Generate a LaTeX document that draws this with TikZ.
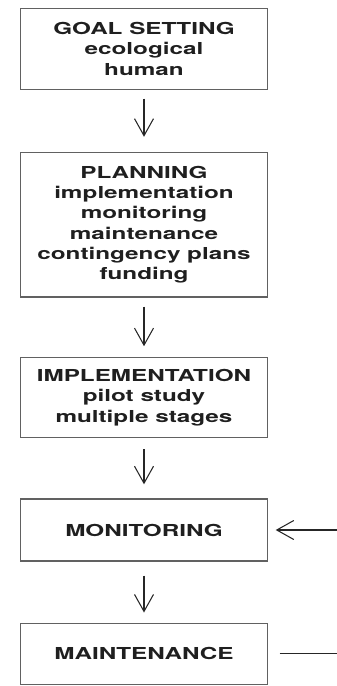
\documentclass[tikz,border=0pt]{standalone}
\usepackage{fontspec}
\usetikzlibrary{arrows.meta}
\newfontfamily\boxfont[FakeStretch=1.47]{TeX Gyre Heros}
\begin{document}
\begin{tikzpicture}[x=1pt,y=1pt,
  stagebox/.style={draw=black!62, line width=1.4pt, fill=white,
    minimum width=247pt, inner sep=0pt, align=center, text=black!88,
    font=\boxfont\bfseries\fontsize{16.5}{20.3}\selectfont},
  flow/.style={draw=black!85, line width=1.05pt,
    -{Straight Barb[length=17pt,width=19pt,line width=1.05pt]}}
]
\useasboundingbox (0,0) rectangle (337,-686);

\node[stagebox, minimum height=81pt] (goal) at (144,-48.8)
  {GOAL SETTING\\ecological\\human};
\node[stagebox, minimum height=144.5pt] (plan) at (144,-224.7)
  {PLANNING\\implementation\\monitoring\\maintenance\\contingency plans\\funding};
\node[stagebox, minimum height=80pt] (impl) at (144,-397.4)
  {IMPLEMENTATION\\pilot study\\multiple stages};
\node[stagebox, minimum height=62pt] (mon) at (144,-530)
  {MONITORING};
\node[stagebox, minimum height=61pt] (maint) at (144,-653.7)
  {MAINTENANCE};

% downward steps
\draw[flow, shorten <=8.5pt, shorten >=15pt] (goal) -- (plan);
\draw[flow, shorten <=9pt, shorten >=10.5pt] (plan) -- (impl);
\draw[flow, shorten <=11pt, shorten >=14pt] (impl) -- (mon);
\draw[flow, shorten <=14pt, shorten >=10pt] (mon) -- (maint);

% feedback loop from maintenance back to monitoring
\coordinate (loop) at (345,-653.7);
\draw[flow, shorten <=11.5pt, shorten >=7.5pt] (maint.east) -- (loop) |- (mon.east);
\end{tikzpicture}
\end{document}
